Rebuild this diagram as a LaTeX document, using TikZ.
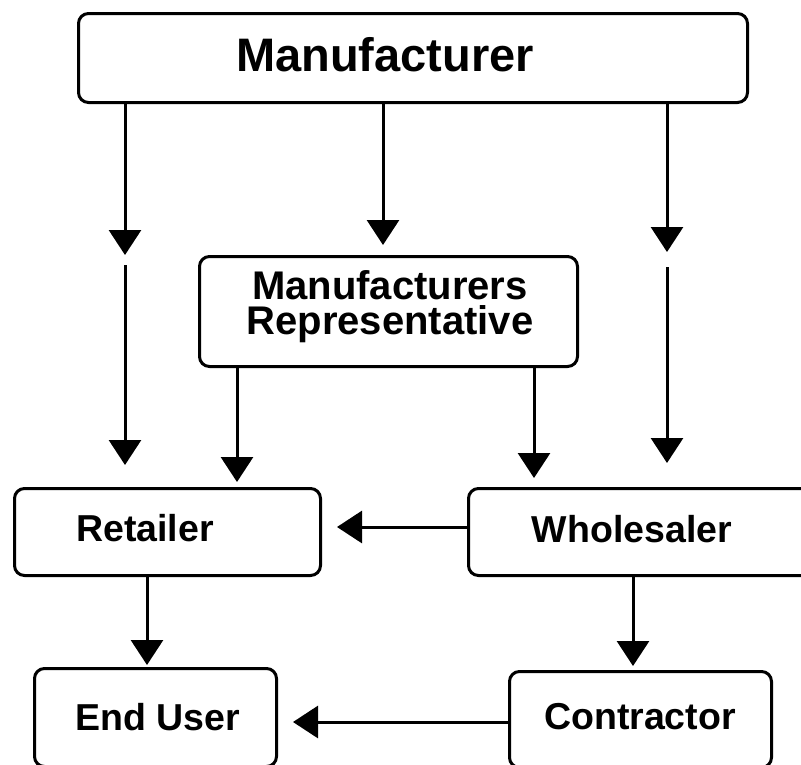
\documentclass[tikz,border=0pt]{standalone}
\usepackage{fontspec}
\setmainfont{Liberation Sans}
\usetikzlibrary{arrows.meta}
\begin{document}
\begin{tikzpicture}[x=1pt,y=-1pt,
  box/.style={draw=black, line width=3pt, rounded corners=10pt, fill=white, inner sep=0pt, outer sep=0pt},
  lbl/.style={anchor=base, inner sep=0pt, font=\bfseries\fontsize{37.5}{37.5}\selectfont},
  arr/.style={line width=3pt, -{Triangle[length=25pt,width=32pt]}}]
\useasboundingbox (0,0) rectangle (801,764);
\fill[white] (0,0) rectangle (801,764);
\clip (0,0) rectangle (801,764);
% boxes
\node[box, minimum width=669pt, minimum height=89pt] (man) at (413,58) {};
\node[box, minimum width=378pt, minimum height=110pt] (mr) at (388.5,311.5) {};
\node[box, minimum width=306pt, minimum height=87pt] (ret) at (167.5,532) {};
\node[box, minimum width=400pt, minimum height=87pt] (who) at (668.5,532) {};
\node[box, minimum width=242pt, minimum height=98pt] (eu) at (155.5,717.5) {};
\node[box, minimum width=262pt, minimum height=96pt] (con) at (640.5,719.5) {};
% labels
\node[lbl, font=\bfseries\fontsize{47}{47}\selectfont] (manT) at (385,71) {Manufacturer};
\node[inner sep=0pt, align=center, font=\bfseries\fontsize{40}{35}\selectfont] (mrT) at (390,307) {Manufacturers\\Representative};
\node[lbl] (retT) at (145,541) {Retailer};
\node[lbl] (whoT) at (632,542) {Wholesaler};
\node[lbl] (euT) at (158,730) {End User};
\node[lbl] (conT) at (640,729) {Contractor};
% split arrow coordinates
\coordinate (la) at (125,255);
\coordinate (lb) at (125,265);
\coordinate (ra) at (667,252);
\coordinate (rb) at (667,267);
\coordinate (mx) at (383,0);
\coordinate (m1) at (237,0);
\coordinate (m2) at (534,0);
\coordinate (r1) at (147,0);
\coordinate (w1) at (633,0);
\coordinate (h1) at (0,527);
\coordinate (h2) at (0,722);
% connectors
\draw[arr] (man.south -| la) -- (la);
\draw[arr, shorten >=23.5pt] (lb) -- (ret.north -| lb);
\draw[arr] (man.south -| ra) -- (ra);
\draw[arr, shorten >=25.5pt] (rb) -- (who.north -| rb);
\draw[arr, shorten >=11.5pt] (man.south -| mx) -- (mr.north -| mx);
\draw[arr, shorten >=6.5pt] (mr.south -| m1) -- (ret.north -| m1);
\draw[arr, shorten >=10.5pt] (mr.south -| m2) -- (who.north -| m2);
\draw[arr, shorten >=16.5pt] (who.west |- h1) -- (ret.east |- h1);
\draw[arr, shorten >=3.5pt] (ret.south -| r1) -- (eu.north -| r1);
\draw[arr, shorten >=5.5pt] (who.south -| w1) -- (con.north -| w1);
\draw[arr, shorten >=16.5pt] (con.west |- h2) -- (eu.east |- h2);
\end{tikzpicture}
\end{document}
